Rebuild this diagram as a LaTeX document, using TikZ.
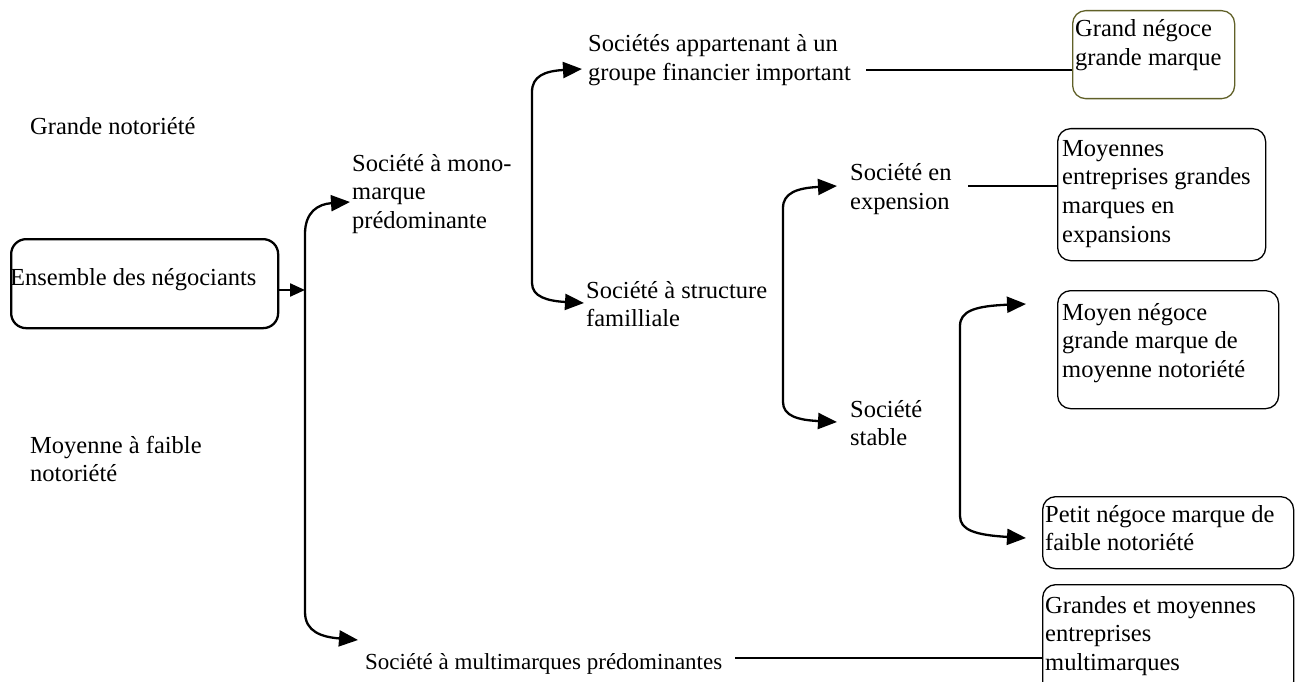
\documentclass[tikz,border=0pt]{standalone}
\usepackage{fontspec}
\setmainfont{Liberation Serif}
\usetikzlibrary{arrows.meta}
\definecolor{olivebd}{RGB}{96,96,40}
\begin{document}
\begin{tikzpicture}[x=1pt,y=-1pt,
  txt/.style={anchor=base west, align=left, inner sep=0pt, font=\fontsize{24.5}{28.7}\selectfont},
  box/.style={draw, rounded corners=13pt, line width=1.3pt, anchor=north west, inner sep=0pt},
  brk/.style={line width=2.3pt, {Triangle[length=19pt,width=16pt]}-{Triangle[length=19pt,width=16pt]}},
  feed/.style={line width=2.3pt, -{Triangle[length=15pt,width=13pt]}},
  conn/.style={line width=1.5pt}]
\useasboundingbox (0,0) rectangle (1296,682);
\clip (0,0) rectangle (1296,682);

% boxes
\node[box, line width=2.3pt, rounded corners=15pt, minimum width=267pt, minimum height=89pt] (ens) at (10,238) {};
\node[box, draw=olivebd, minimum width=162pt, minimum height=88pt] (gn) at (1072,10) {};
\node[box, minimum width=208pt, minimum height=132pt] (me) at (1057,128) {};
\node[box, minimum width=221pt, minimum height=118pt] (mn) at (1057,290) {};
\node[box, minimum width=251pt, minimum height=72pt] (pn) at (1042,496) {};
\node[box, minimum width=251pt, minimum height=110pt] (gm) at (1042,584) {};

% texts (anchor = baseline of the last line)
\node[txt] (ensT) at (10,285) {Ensemble des négociants};
\node[txt] (gnot) at (30,135) {Grande notoriété};
\node[txt] (mfnot) at (30,481.7) {Moyenne à faible\\notoriété};
\node[txt] (mono) at (352,228.4) {Société à mono-\\marque\\prédominante};
\node[txt] (sga) at (588,80.7) {Sociétés appartenant à un\\groupe financier important};
\node[txt] (ssf) at (586,326.7) {Société à structure\\familliale};
\node[txt] (sexp) at (850,209.7) {Société en\\expension};
\node[txt] (sst) at (850,445.7) {Société\\stable};
\node[txt, font=\fontsize{23}{28.7}\selectfont] (smm) at (365,669) {Société à multimarques prédominantes};
\node[txt] (gnT) at (1075,65.7) {Grand négoce\\grande marque};
\node[txt] (meT) at (1062,242.1) {Moyennes\\entreprises grandes\\marques en\\expansions};
\node[txt] (mnT) at (1062,377.4) {Moyen négoce\\grande marque de\\moyenne notoriété};
\node[txt] (pnT) at (1045,550.7) {Petit négoce marque de\\faible notoriété};
\node[txt] (gmT) at (1045,670.4) {Grandes et moyennes\\entreprises\\multimarques};

% bracket coordinates
\coordinate (j1) at (305,290);
\coordinate (a1) at (350,202);
\coordinate (b1) at (358,640);
\coordinate (a2) at (582,69);
\coordinate (b2) at (584,303);
\coordinate (a3) at (837,186);
\coordinate (b3) at (837,422);
\coordinate (a4) at (1026,304);
\coordinate (b4) at (1026,538);

% feed arrow
\draw[feed] (ens.east |- j1) -- (j1);

% brackets
\draw[brk] (a1) .. controls (318,204) and (305,212) .. (305,234) -- (305,612) .. controls (305,632) and (322,637) .. (b1);
\draw[brk] (a2) .. controls (545,71) and (532,76) .. (532,92) -- (532,283) .. controls (532,297) and (548,301) .. (b2);
\draw[brk] (a3) .. controls (797,188) and (783,193) .. (783,208) -- (783,402) .. controls (783,416) and (798,420) .. (b3);
\draw[brk] (a4) .. controls (975,306) and (960,311) .. (960,326) -- (960,516) .. controls (960,530) and (975,535) .. (b4);

% plain connectors
\coordinate (c1) at (866,70);
\coordinate (c2) at (968,186);
\coordinate (c3) at (735,658);
\draw[conn] (c1) -- (c1 -| gn.west);
\draw[conn] (c2) -- (c2 -| me.west);
\draw[conn] (c3) -- (c3 -| gm.west);
\end{tikzpicture}
\end{document}
